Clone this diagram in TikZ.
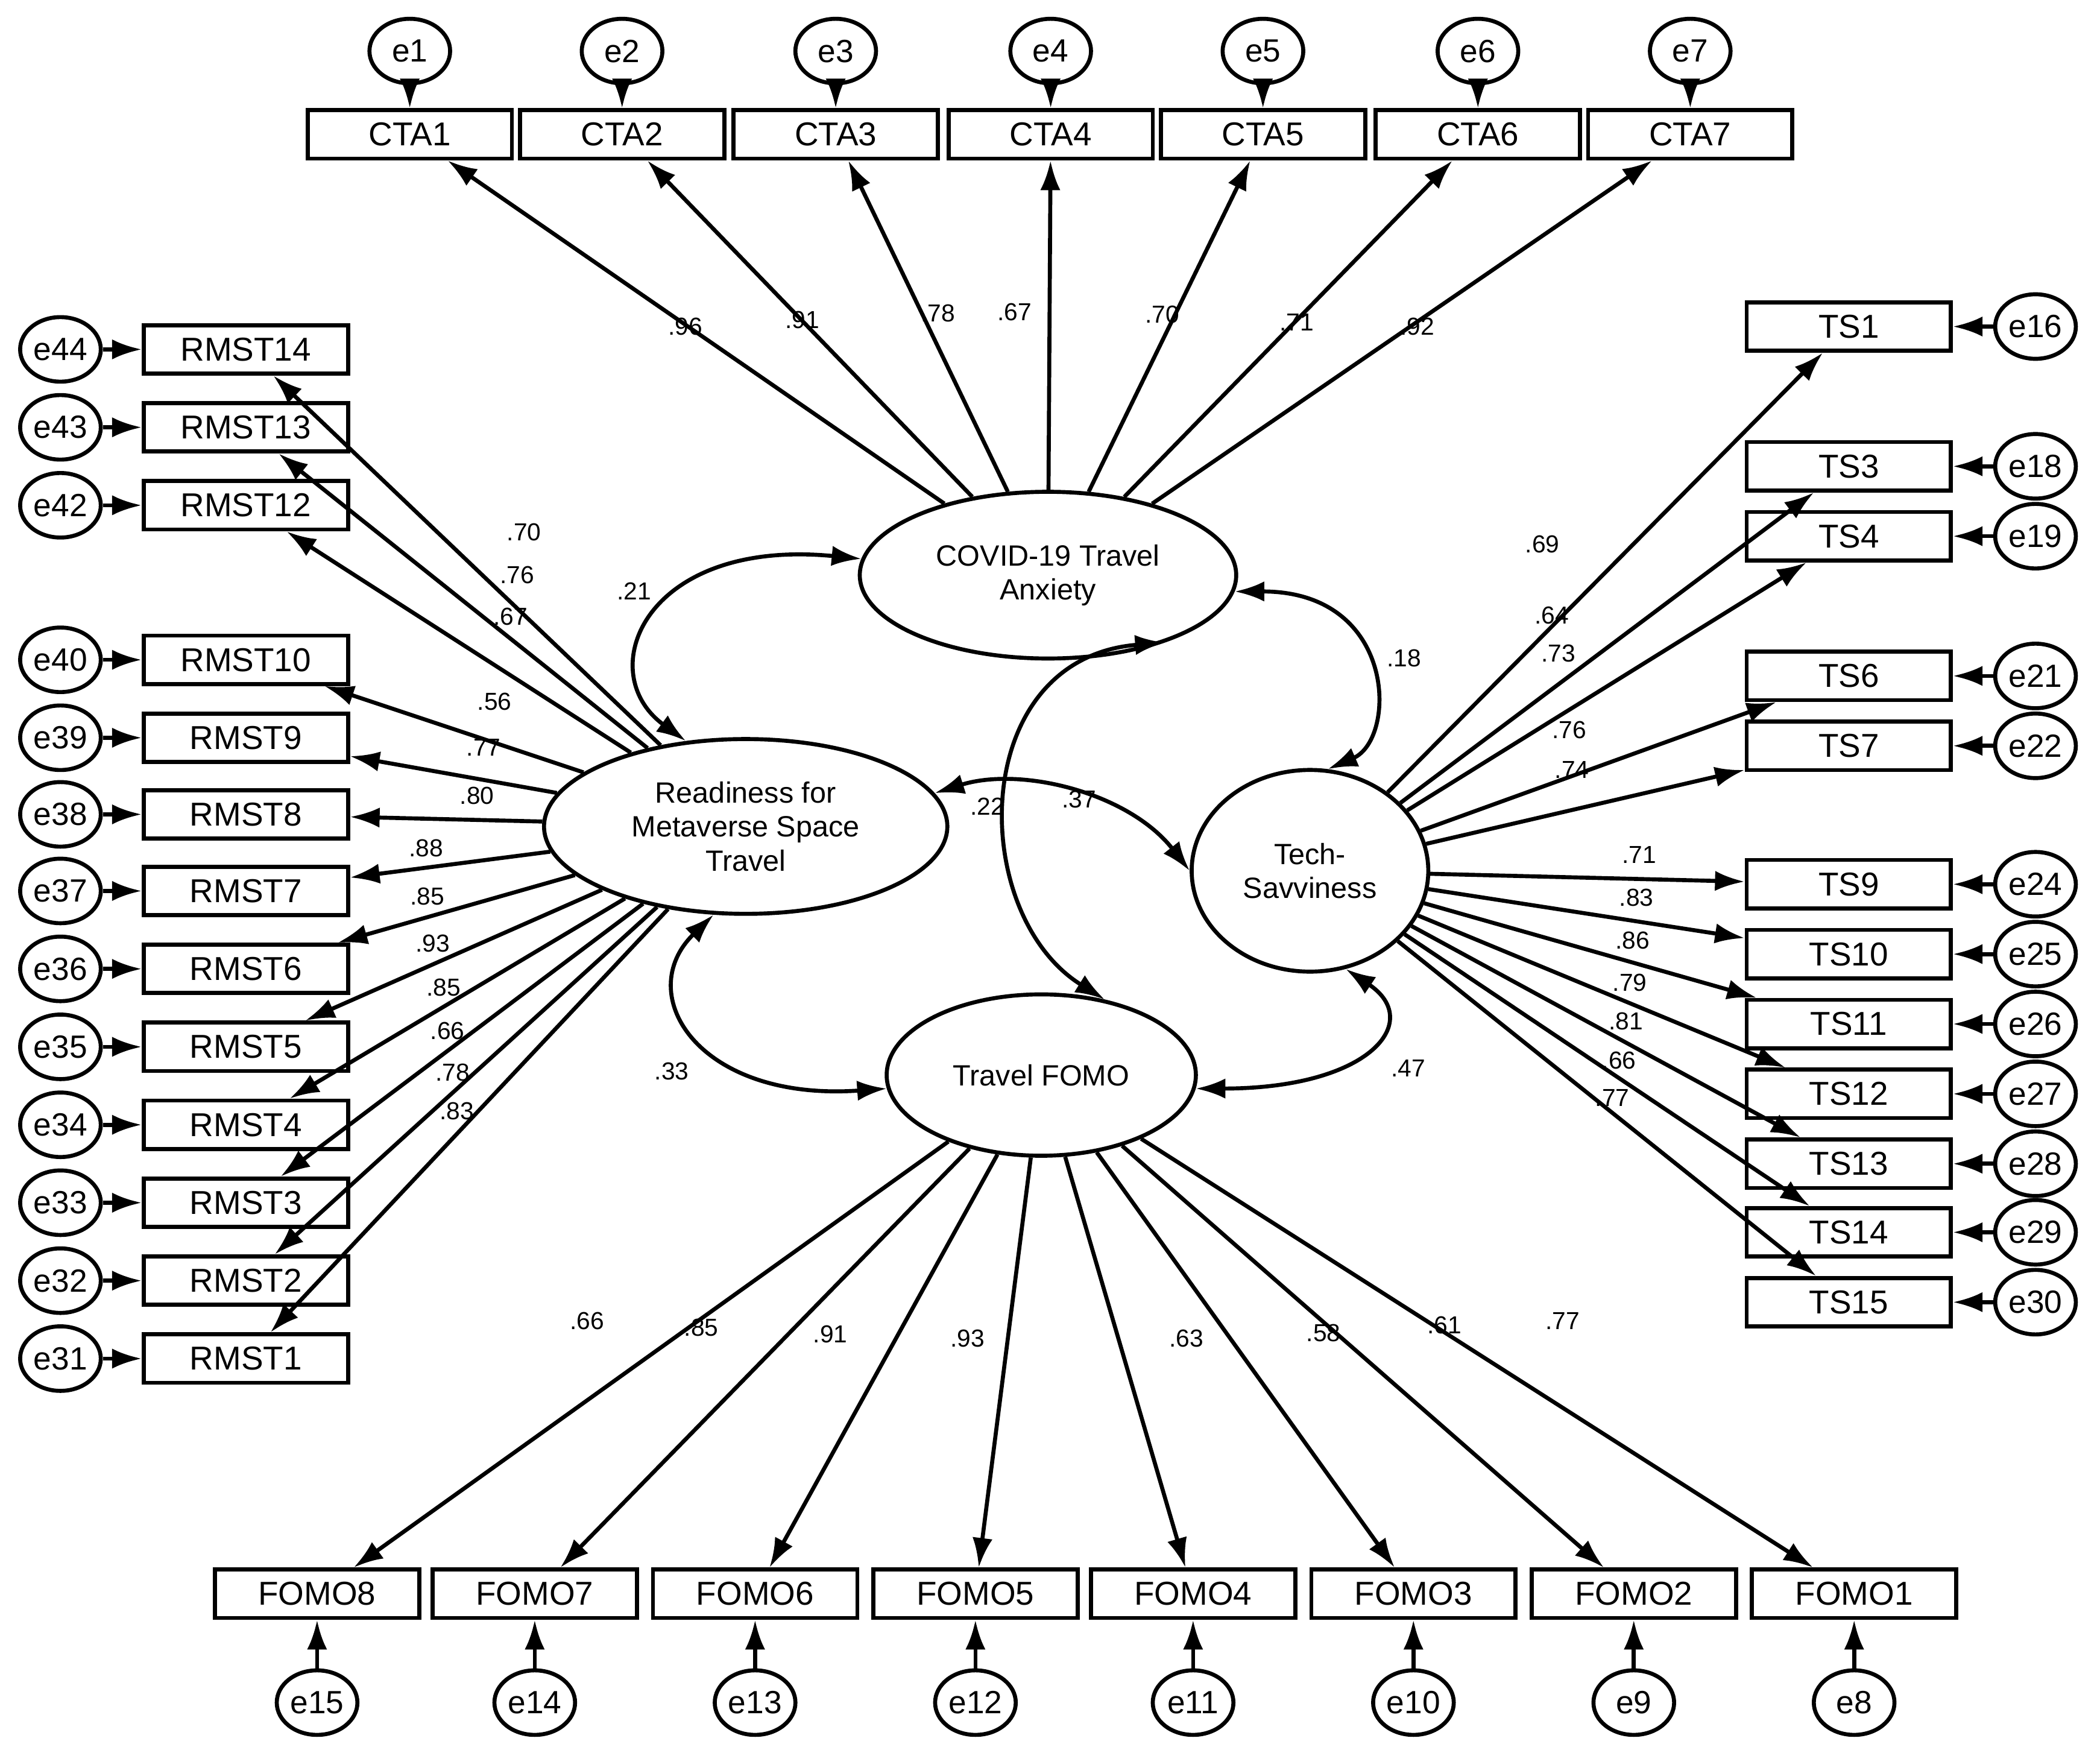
\documentclass[tikz,border=0pt]{standalone}
\usepackage{fontspec}\setmainfont{Liberation Sans}
\usetikzlibrary{arrows.meta,shapes.geometric}
\begin{document}
\begin{tikzpicture}[x=0.01cm,y=-0.01cm,line width=0.85pt,
 >={Latex[length=0.22cm,width=0.15cm]},
 box/.style={draw,rectangle,minimum width=1.52cm,minimum height=0.36cm,inner sep=0pt,font=\fontsize{7}{8}\selectfont},
 err/.style={draw,ellipse,minimum width=0.6cm,minimum height=0.48cm,inner sep=0pt,font=\fontsize{6.8}{8}\selectfont},
 lat/.style={draw,ellipse,align=center,inner sep=0pt,font=\fontsize{6.2}{7.2}\selectfont},
 lab/.style={font=\fontsize{5.2}{6}\selectfont,inner sep=0pt}]
\useasboundingbox (0,0) rectangle (1563,1300);
\node[lat,minimum width=2.8cm,minimum height=1.24cm] (CTA) at (780,428) {COVID-19 Travel\\Anxiety};
\node[lat,minimum width=3.0cm,minimum height=1.3cm] (RM) at (555,615) {Readiness for\\Metaverse Space\\Travel};
\node[lat,minimum width=1.76cm,minimum height=1.5cm] (TS) at (975,648) {Tech-\\Savviness};
\node[lat,minimum width=2.3cm,minimum height=1.2cm] (FO) at (775,800) {Travel FOMO};
% CTA
\foreach \i/\x/\ld/\lx/\ly in {1/305/.96/510/243,2/463/.91/597/238,3/622/.78/698/233,4/782/.67/755/232,5/940/.70/865/234,6/1100/.71/965/240,7/1258/.92/1055/243}{
 \node[box] (c\i) at (\x,100) {CTA\i};
 \node[err] (ec\i) at (\x,38) {e\i};
 \draw[->] (ec\i) -- (c\i);
 \draw[->] (CTA) -- (c\i);
 \node[lab] at (\lx,\ly) {\ld};}
% RMST
\foreach \n/\y/\e/\ld/\lx/\ly in {14/260/44/.70/390/396,13/318/43/.76/385/428,12/376/42/.67/380/459,10/491/40/.56/368/522,9/549/39/.77/360/556,8/606/38/.80/355/592,7/663/37/.88/317/631,6/721/36/.93/322/702,5/779/35/.85/330/735,4/837/34/.66/333/767,3/895/33/.78/337/798,2/953/32/.83/340/827,1/1011/31/{}/0/0}{
 \node[box] (r\n) at (183,\y) {RMST\n};
 \node[err] (er\n) at (45,\y) {e\e};
 \draw[->] (er\n) -- (r\n);
 \draw[->] (RM) -- (r\n);
 \node[lab] at (\lx,\ly) {\ld};}
\node[lab] at (318,667) {.85};
% TS
\foreach \n/\y/\e/\ld/\lx/\ly in {1/243/16/.69/1148/405,3/347/18/.64/1155/458,4/399/19/.73/1160/486,6/503/21/.76/1168/543,7/555/22/.74/1170/573,9/658/24/.71/1220/636,10/710/25/.83/1218/668,11/762/26/.86/1215/700,12/814/27/.79/1213/731,13/866/28/.81/1210/760,14/917/29/.66/1205/789,15/969/30/.77/1200/817}{
 \node[box] (t\n) at (1376,\y) {TS\n};
 \node[err] (et\n) at (1515,\y) {e\e};
 \draw[->] (et\n) -- (t\n);
 \draw[->] (TS) -- (t\n);
 \node[lab] at (\lx,\ly) {\ld};}
% FOMO
\foreach \n/\x/\e/\ld/\lx/\ly in {8/236/15/.66/437/983,7/398/14/.85/522/988,6/562/13/.91/618/993,5/726/12/.93/720/996,4/888/11/.63/883/996,3/1052/10/.58/985/992,2/1216/9/.61/1075/986,1/1380/8/.77/1163/983}{
 \node[box] (f\n) at (\x,1186) {FOMO\n};
 \node[err] (ef\n) at (\x,1267) {e\e};
 \draw[->] (ef\n) -- (f\n);
 \draw[->] (FO) -- (f\n);
 \node[lab] at (\lx,\ly) {\ld};}
% covariances
\draw[<->] (CTA.175) .. controls (480,400) and (440,500) .. (RM.125);
\node[lab] at (472,440) {.21};
\draw[<->] (CTA.355) .. controls (1040,440) and (1040,550) .. (TS.80);
\node[lab] at (1045,490) {.18};
\draw[<->] (RM.250) .. controls (470,740) and (520,820) .. (FO.185);
\node[lab] at (500,797) {.33};
\draw[<->] (TS.290) .. controls (1060,760) and (1020,810) .. (FO.355);
\node[lab] at (1048,795) {.47};
\draw[<->] (RM.10) .. controls (760,570) and (840,590) .. (TS.180);
\node[lab] at (735,600) {.22};
\draw[<->] (CTA.330) .. controls (720,490) and (720,680) .. (FO.50);
\node[lab] at (803,595) {.37};
\end{tikzpicture}
\end{document}
